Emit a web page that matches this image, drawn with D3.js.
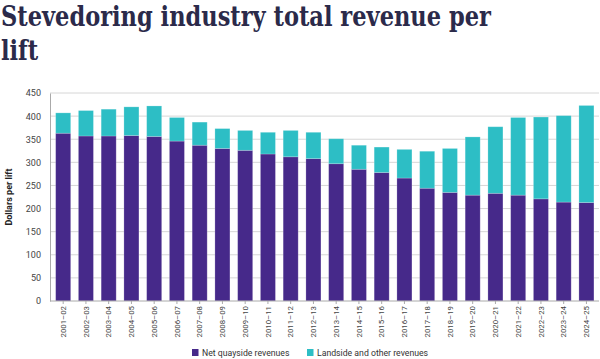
<!DOCTYPE html>
<html><head><meta charset="utf-8">
<script src="https://cdn.jsdelivr.net/npm/d3@7"></script>
<style>body{margin:0;background:#fff}svg{display:block}</style>
</head><body><svg id="c" width="600" height="359"></svg>
<script>
const categories = ["2001–02","2002–03","2003–04","2004–05","2005–06","2006–07","2007–08","2008–09","2009–10","2010–11","2011–12","2012–13","2013–14","2014–15","2015–16","2016–17","2017–18","2018–19","2019–20","2020–21","2021–22","2022–23","2023–24","2024–25"];
const netQuayside = [363,357,357,358,356,346,337,330,326,318,312,308,297,285,278,266,244,235,229,233,229,221,214,213];
const totalRevenue = [407,412,415,420,422,397,387,373,369,365,369,365,351,337,333,328,324,330,355,377,397,398,401,423];
const landside = totalRevenue.map((t,i)=>t-netQuayside[i]);
const yTicks = [0,50,100,150,200,250,300,350,400,450];
const seriesNames = ["Net quayside revenues","Landside and other revenues"];
const colors = ["#46298a","#2dbec5"];

const svg = d3.select("#c");
const x = d3.scaleBand().domain(categories).range([51.8,597.8]).paddingInner(0.34).paddingOuter(0.17);
const y = d3.scaleLinear().domain([0,450]).range([301,93]);

// title (horizontally scaled to the reference width)
const title = svg.append("g").attr("font-family","DejaVu Serif").attr("font-weight","bold").attr("fill","#2b2a4a").attr("font-size",28);
const t1 = title.append("text").attr("x",0).attr("y",26).text("Stevedoring industry total revenue per");
const t2 = title.append("text").attr("x",0).attr("y",60).text("lift");
const sx = 490 / t1.node().getComputedTextLength();
title.attr("transform",`translate(1,0) scale(${sx},1)`);

// gridlines
svg.append("g").selectAll("line").data(yTicks.filter(d=>d>0)).join("line")
  .attr("x1",50).attr("x2",599).attr("y1",d=>y(d)).attr("y2",d=>y(d))
  .attr("stroke","#d6d6d6").attr("stroke-width",1);

// y axis
const ya = svg.append("g").attr("transform","translate(50,0)")
  .call(d3.axisLeft(y).tickValues(yTicks).tickSize(0).tickPadding(9));
ya.select(".domain").attr("stroke","#aaa");
ya.selectAll("text").attr("font-family","Roboto, Arial, sans-serif").attr("font-size",9).attr("fill","#444");

// bars
const stack = d3.stack().keys([0,1]).value((d,k)=>k===0?netQuayside[d]:landside[d])(d3.range(categories.length));
svg.append("g").selectAll("g").data(stack).join("g").attr("fill",(d,i)=>colors[i])
  .selectAll("rect").data(d=>d).join("rect")
  .attr("x",d=>x(categories[d.data])).attr("width",x.bandwidth())
  .attr("y",d=>y(d[1])).attr("height",d=>y(d[0])-y(d[1]))
  .attr("stroke","#ffffff").attr("stroke-opacity",0.25).attr("stroke-width",0.8);

// x axis
const xa = svg.append("g").attr("transform","translate(0,301)")
  .call(d3.axisBottom(x).tickSize(3).tickPadding(3));
xa.select(".domain").attr("stroke","#aaa").attr("d","M50,0H599");
xa.selectAll(".tick line").attr("stroke","#aaa");
xa.selectAll("text").attr("font-family","Roboto, Arial, sans-serif").attr("font-size",7.8).attr("fill","#444")
  .attr("transform","rotate(-90)").attr("text-anchor","end").attr("x",-5).attr("y",0).attr("dy","0.35em");

// y label
svg.append("text").attr("transform","translate(12,197) rotate(-90)").attr("text-anchor","middle")
  .attr("font-family","Roboto, Arial, sans-serif").attr("font-weight","bold").attr("font-size",9).attr("fill","#222")
  .text("Dollars per lift");

// legend
const leg = svg.append("g").attr("font-family","Roboto, Arial, sans-serif").attr("font-size",8.7).attr("fill","#333");
const legX = [192,307];
seriesNames.forEach((n,i)=>{
  leg.append("rect").attr("x",legX[i]).attr("y",349).attr("width",6.5).attr("height",7).attr("fill",colors[i]);
  leg.append("text").attr("x",legX[i]+10).attr("y",352.5).attr("dy","0.35em").text(n);
});
</script></body></html>
